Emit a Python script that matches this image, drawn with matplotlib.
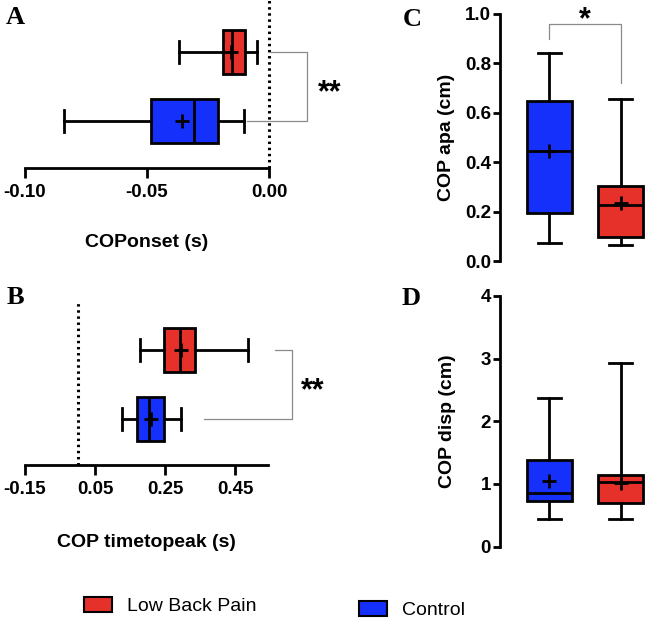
import matplotlib
matplotlib.use('Agg')
import matplotlib.pyplot as plt
from matplotlib.patches import Patch

# ---------------- data (box statistics) ----------------
stat_keys = ['whislo', 'q1', 'med', 'q3', 'whishi']
groups = ['Low Back Pain', 'Control']

# Panel A: COP onset (s)
onset_lbp = [-0.0369, -0.0189, -0.0152, -0.0098, -0.0049]
onset_lbp_mean = -0.0156
onset_ctl = [-0.0840, -0.0484, -0.0307, -0.0209, -0.0102]
onset_ctl_mean = -0.0357
onset_ticks = [-0.10, -0.05, 0.00]
onset_ticklabels = ['-0.10', '-0.05', '0.00']

# Panel B: COP time to peak (s)
ttp_lbp = [0.179, 0.247, 0.293, 0.336, 0.487]
ttp_lbp_mean = 0.296
ttp_ctl = [0.127, 0.170, 0.204, 0.247, 0.296]
ttp_ctl_mean = 0.210
ttp_ticks = [-0.15, 0.05, 0.25, 0.45]
ttp_ticklabels = ['-0.15', '0.05', '0.25', '0.45']

# Panel C: COP apa (cm)
apa_ctl = [0.073, 0.194, 0.445, 0.648, 0.842]
apa_ctl_mean = 0.445
apa_lbp = [0.065, 0.097, 0.227, 0.304, 0.656]
apa_lbp_mean = 0.235
apa_ticks = [0.0, 0.2, 0.4, 0.6, 0.8, 1.0]
apa_ticklabels = ['0.0', '0.2', '0.4', '0.6', '0.8', '1.0']

# Panel D: COP disp (cm)
disp_ctl = [0.44, 0.73, 0.856, 1.38, 2.376]
disp_ctl_mean = 1.05
disp_lbp = [0.44, 0.70, 1.03, 1.144, 2.936]
disp_lbp_mean = 1.02
disp_ticks = [0, 1, 2, 3, 4]
disp_ticklabels = ['0', '1', '2', '3', '4']

RED = '#E5312A'
BLUE = '#1530FA'
GRAY = '#8a8a8a'

# ---------------- figure ----------------
W, H = 645, 621
fig = plt.figure(figsize=(W / 100, H / 100), dpi=100)
plt.rcParams['font.family'] = ['Liberation Sans', 'DejaVu Sans']

TICKFS = 13.5
LABFS = 14


def add_ax(l, t, r, b):
    return fig.add_axes([l / W, 1 - b / H, (r - l) / W, (b - t) / H])


def mkstats(vals, mean):
    d = dict(zip(stat_keys, vals))
    d['mean'] = mean
    return d


def draw_boxes(ax, stats, positions, colors, width, orientation):
    arts = ax.bxp(stats, positions=positions, widths=width, orientation=orientation,
                  patch_artist=True, showfliers=False, showmeans=True,
                  boxprops=dict(edgecolor='black', linewidth=2.0),
                  medianprops=dict(color='black', linewidth=2.0),
                  whiskerprops=dict(color='black', linewidth=2.0),
                  capprops=dict(color='black', linewidth=2.0),
                  meanprops=dict(marker='+', markeredgecolor='black', markersize=10,
                                 markeredgewidth=2.0))
    for p, c in zip(arts['boxes'], colors):
        p.set_facecolor(c)
    return arts


def style_h(ax, xlim, ylim, ticks, ticklabels, xlabel, labelpad):
    ax.set_xlim(*xlim)
    ax.set_ylim(*ylim)
    for s in ['top', 'right', 'left']:
        ax.spines[s].set_visible(False)
    ax.spines['bottom'].set_linewidth(2.0)
    ax.set_yticks([])
    ax.set_xticks(ticks)
    ax.set_xticklabels(ticklabels, fontsize=TICKFS, fontweight='bold')
    ax.tick_params(axis='x', length=7.2, width=2.0, pad=4.3)
    ax.set_xlabel(xlabel, fontsize=LABFS, fontweight='bold', labelpad=labelpad)
    ax.patch.set_alpha(0)


def style_v(ax, xlim, ylim, ticks, ticklabels, ylabel, labelpad):
    ax.set_xlim(*xlim)
    ax.set_ylim(*ylim)
    for s in ['top', 'right', 'bottom']:
        ax.spines[s].set_visible(False)
    ax.spines['left'].set_linewidth(2.0)
    ax.set_xticks([])
    ax.set_yticks(ticks)
    ax.set_yticklabels(ticklabels, fontsize=TICKFS, fontweight='bold')
    ax.tick_params(axis='y', length=5, width=2.0, pad=1.5)
    ax.set_ylabel(ylabel, fontsize=LABFS, fontweight='bold', labelpad=labelpad)
    ax.patch.set_alpha(0)


DOT = (0, (0.8, 1.2))

# Panel A
axA = add_ax(25, 0, 269, 168)
draw_boxes(axA, [mkstats(onset_lbp, onset_lbp_mean), mkstats(onset_ctl, onset_ctl_mean)],
           [2, 1], [RED, BLUE], 0.64, 'horizontal')
style_h(axA, (-0.1, 0.0), (0.32, 2.754), onset_ticks, onset_ticklabels, 'COPonset (s)', 24)
axA.axvline(0, color='black', linestyle=DOT, linewidth=2.2, zorder=0, clip_on=False)
axA.plot([0.0004, 0.0156, 0.0156, -0.009], [2, 2, 1, 1], color=GRAY, lw=0.9, clip_on=False)
axA.text(0.025, 1.41, '**', fontsize=22, fontweight='bold', ha='center', va='center')

# Panel B
axB = add_ax(25, 300, 268, 465)
draw_boxes(axB, [mkstats(ttp_lbp, ttp_lbp_mean), mkstats(ttp_ctl, ttp_ctl_mean)],
           [2, 1], [RED, BLUE], 0.65, 'horizontal')
style_h(axB, (-0.15, 0.544), (0.333, 2.725), ttp_ticks, ttp_ticklabels, 'COP timetopeak (s)', 26)
axB.axvline(0, color='black', linestyle=DOT, linewidth=2.2, zorder=0, clip_on=False)
axB.plot([0.564, 0.613, 0.613, 0.361], [2, 2, 1, 1], color=GRAY, lw=0.9, clip_on=False)
axB.text(0.673, 1.4, '**', fontsize=22, fontweight='bold', ha='center', va='center')

# Panel C
axC = add_ax(500, 14, 645, 261)
draw_boxes(axC, [mkstats(apa_ctl, apa_ctl_mean), mkstats(apa_lbp, apa_lbp_mean)],
           [1, 2], [BLUE, RED], 0.634, 'vertical')
style_v(axC, (0.303, 2.345), (0, 1.0), apa_ticks, apa_ticklabels, 'COP apa (cm)', 7)
axC.plot([1, 1, 2, 2], [0.899, 0.96, 0.96, 0.721], color=GRAY, lw=0.9, clip_on=False)
axC.text(1.5, 0.975, '*', fontsize=22, fontweight='bold', ha='center', va='center')

# Panel D
axD = add_ax(500, 296, 645, 546.5)
draw_boxes(axD, [mkstats(disp_ctl, disp_ctl_mean), mkstats(disp_lbp, disp_lbp_mean)],
           [1, 2], [BLUE, RED], 0.634, 'vertical')
style_v(axD, (0.303, 2.345), (0, 4), disp_ticks, disp_ticklabels, 'COP disp (cm)', 18)

# panel letters
for lab, x, y in [('A', 15, 17), ('B', 15, 297), ('C', 412, 19), ('D', 411, 299)]:
    fig.text(x / W, 1 - y / H, lab, fontsize=19, fontweight='bold',
             family='Liberation Serif', ha='center', va='center')

# legend (two separate entries)
for grp, col, x, y in [(groups[0], RED, 84, 606), (groups[1], BLUE, 359, 610)]:
    fig.legend(handles=[Patch(facecolor=col, edgecolor='black', linewidth=1.5, label=grp)],
               loc='center left', bbox_to_anchor=(x / W, 1 - y / H), frameon=False,
               borderpad=0, borderaxespad=0, handlelength=1.45, handleheight=0.82,
               handletextpad=0.75, prop=dict(family='Liberation Sans', size=14))

fig.savefig('out.png', dpi=100)
